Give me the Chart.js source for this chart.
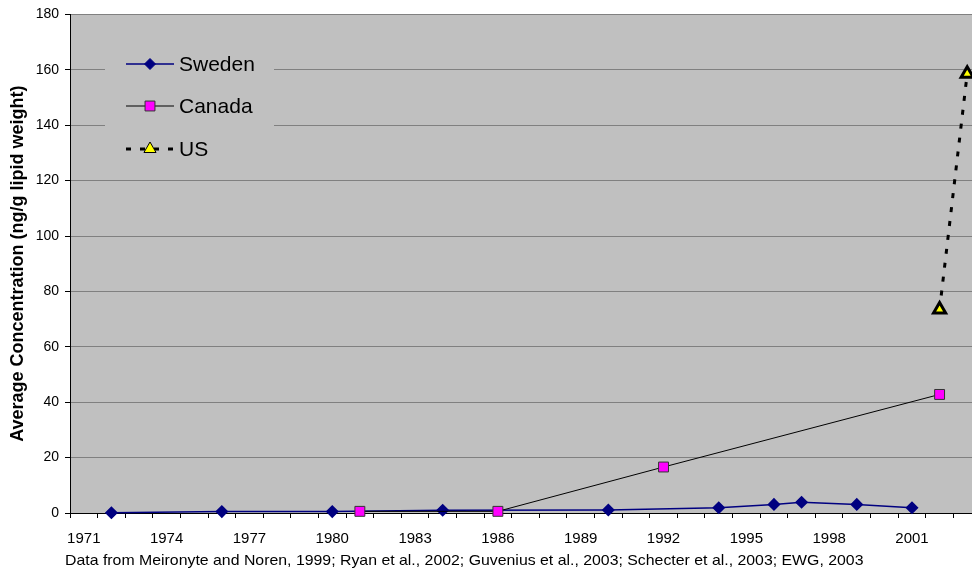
<!DOCTYPE html>
<html>
<head>
<meta charset="utf-8">
<script src="https://cdn.jsdelivr.net/npm/chart.js"></script>
<style>
  html, body { margin: 0; padding: 0; background: #fff; overflow: hidden; }
  #wrap { width: 991px; height: 573px; position: relative; }
</style>
</head>
<body>
<div id="wrap"><canvas id="myChart"></canvas></div>
<script>
// years on the category axis (one slot per year)
const years = [];
for (let y = 1971; y <= 2003; y++) years.push(String(y));

// values, by year
const swedenPoints = { 1972: 0.1, 1976: 0.5, 1980: 0.5, 1984: 1.0, 1990: 1.1, 1994: 1.9, 1996: 3.1, 1997: 3.9, 1999: 3.1, 2001: 1.9 };
const canadaPoints = { 1981: 0.6, 1986: 0.6, 1992: 16.6, 2002: 42.8 };
const usPoints = { 2002: 73.5, 2003: 158.6 };

const seriesNames = ['Sweden', 'Canada', 'US'];
const yTicks = [0, 20, 40, 60, 80, 100, 120, 140, 160, 180];
const sourceNote = 'Data from Meironyte and Noren, 1999; Ryan et al., 2002; Guvenius et al., 2003; Schecter et al., 2003; EWG, 2003';

const toSeries = pts => years.map(y => (pts[y] !== undefined ? pts[y] : null));

const FONT = 'Arial, "Liberation Sans", sans-serif';
const PLOT_BG = '#C0C0C0';

// gray plot area + legend box + source note
const extras = {
  id: 'extras',
  beforeDraw(chart) {
    const { ctx, chartArea: a } = chart;
    ctx.save();
    ctx.fillStyle = PLOT_BG;
    ctx.fillRect(a.left, a.top, a.right - a.left, a.bottom - a.top);
    ctx.restore();
  },
  beforeDatasetsDraw(chart) {
    // legend box hides the grid lines behind it
    const ctx = chart.ctx;
    ctx.save();
    ctx.fillStyle = PLOT_BG;
    ctx.fillRect(105, 40, 169, 128);
    ctx.restore();
  },
  afterDraw(chart) {
    const ctx = chart.ctx;
    const rows = [64, 106, 149];
    ctx.save();
    chart.data.datasets.forEach((ds, i) => {
      const y = rows[i];
      ctx.strokeStyle = ds.borderColor;
      ctx.lineWidth = ds.borderWidth;
      ctx.setLineDash(ds.borderDash || []);
      ctx.beginPath();
      ctx.moveTo(126, y);
      ctx.lineTo(174, y);
      ctx.stroke();
      ctx.setLineDash([]);
      drawMarker(ctx, ds.pointStyle, 150, y, ds.pointRadius, ds.pointBackgroundColor, ds.pointBorderColor);
      ctx.fillStyle = '#000';
      ctx.font = '21px ' + FONT;
      ctx.textBaseline = 'middle';
      ctx.textAlign = 'left';
      ctx.fillText(ds.label, 179, y + 1);
    });
    // source note, a little wider than plain 15px Arial like the original
    ctx.translate(65, 561);
    ctx.scale(1.057, 1);
    ctx.font = '15px ' + FONT;
    ctx.fillStyle = '#000';
    ctx.textBaseline = 'middle';
    ctx.fillText(sourceNote, 0, 0);
    ctx.restore();
  }
};

function drawMarker(ctx, style, x, y, r, fill, stroke) {
  ctx.beginPath();
  if (style === 'rectRot') {
    ctx.moveTo(x, y - r); ctx.lineTo(x + r, y); ctx.lineTo(x, y + r); ctx.lineTo(x - r, y);
  } else if (style === 'rect') {
    const s = r * Math.SQRT1_2;
    ctx.rect(x - s, y - s, 2 * s, 2 * s);
  } else {
    ctx.moveTo(x, y - r);
    ctx.lineTo(x + r * 0.866, y + r * 0.5);
    ctx.lineTo(x - r * 0.866, y + r * 0.5);
  }
  ctx.closePath();
  ctx.fillStyle = fill;
  ctx.fill();
  ctx.lineWidth = 1;
  ctx.strokeStyle = stroke;
  ctx.stroke();
}

const ctx = document.getElementById('myChart');
const myChart = new Chart(ctx, {
  type: 'line',
  data: {
    labels: years,
    datasets: [{
      label: seriesNames[0],
      data: toSeries(swedenPoints),
      borderColor: '#000080',
      borderWidth: 1.5,
      pointStyle: 'rectRot',
      pointRadius: 5.5,
      pointBackgroundColor: '#000080',
      pointBorderColor: '#000080',
      spanGaps: true,
      clip: false,
      order: 1
    }, {
      label: seriesNames[1],
      data: toSeries(canadaPoints),
      borderColor: '#000000',
      borderWidth: 1,
      pointStyle: 'rect',
      pointRadius: 7,
      pointBackgroundColor: '#FF00FF',
      pointBorderColor: '#333333',
      spanGaps: true,
      clip: false,
      order: 0
    }, {
      label: seriesNames[2],
      data: toSeries(usPoints),
      borderColor: '#000000',
      borderWidth: 3,
      borderDash: [5, 9],
      pointStyle: 'triangle',
      pointRadius: 7,
      pointBackgroundColor: '#FFFF00',
      pointBorderColor: '#000000',
      spanGaps: true,
      clip: false,
      order: 0
    }]
  },
  options: {
    responsive: true,
    maintainAspectRatio: false,
    animation: false,
    layout: { padding: { top: 14, right: 6, left: 0, bottom: 0 } },
    elements: { line: { tension: 0 }, point: { borderWidth: 1, hoverRadius: 6 } },
    plugins: {
      legend: { display: false },
      tooltip: { enabled: false }
    },
    scales: {
      x: {
        type: 'category',
        offset: true,
        grid: { offset: true, drawOnChartArea: false, drawTicks: true, tickLength: 5, color: '#000' },
        border: { color: '#000', width: 1 },
        ticks: {
          autoSkip: false,
          maxRotation: 0,
          padding: 12,
          color: '#000',
          font: { family: FONT, size: 15 },
          callback: (v, i) => (i % 3 === 0 ? years[i] : '')
        },
        afterFit: s => { s.height = 60; }
      },
      y: {
        min: 0,
        max: 180,
        afterBuildTicks: s => { s.ticks = yTicks.map(v => ({ value: v })); },
        grid: { color: '#808080', tickColor: '#000', tickLength: 5 },
        border: { color: '#000', width: 1 },
        ticks: { color: '#000', padding: 6, font: { family: FONT, size: 14 } },
        title: {
          display: true,
          text: 'Average Concentration (ng/g lipid weight)',
          color: '#000',
          font: { family: FONT, size: 18, weight: 'bold' },
          padding: { top: 7, bottom: 0 }
        },
        afterFit: s => { s.width = 70; }
      }
    }
  },
  plugins: [extras]
});
</script>
</body>
</html>
